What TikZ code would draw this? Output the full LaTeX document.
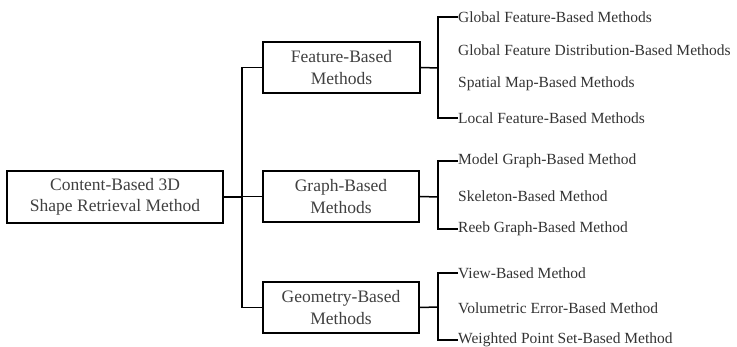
\documentclass[tikz,border=0pt]{standalone}
\usepackage{fontspec}
\setmainfont{Liberation Serif}
\begin{document}
\begin{tikzpicture}[x=1pt,y=-1pt,
  box/.style={draw, line width=1.8pt, align=center, inner sep=0pt, font=\fontsize{17.5}{21.5}\selectfont, text=black!75},
  leaf/.style={anchor=west, inner sep=0pt, font=\fontsize{15.5}{17}\selectfont, text=black!80},
  conn/.style={line width=1.5pt}]
\useasboundingbox (0,0) rectangle (737,347);
\node[box, minimum width=216pt, minimum height=52pt] (root) at (115,197) {Content-Based 3D\\Shape Retrieval Method};
\node[box, minimum width=157pt, minimum height=51pt] (feat) at (341.5,67.5) {Feature-Based\\Methods};
\node[box, minimum width=156pt, minimum height=51pt] (graph) at (341,196.5) {Graph-Based\\Methods};
\node[box, minimum width=156pt, minimum height=51pt] (geom) at (341,307.5) {Geometry-Based\\Methods};
\coordinate (trunk) at (242,197);
\draw[conn] (root.east) -- (trunk);
\draw[conn] (feat.west) -- (feat.west -| trunk) -- (geom.west -| trunk) -- (geom.west);
\draw[conn] (graph.west) -- (graph.west -| trunk);
% leaves
\node[leaf] (f1) at (458,17) {Global Feature-Based Methods};
\node[leaf] (f2) at (458,50) {Global Feature Distribution-Based Methods};
\node[leaf] (f3) at (458,84) {Spatial Map-Based Methods};
\node[leaf] (f4) at (458,118) {Local Feature-Based Methods};
\node[leaf] (g1) at (458,161) {Model Graph-Based Method};
\node[leaf] (g2) at (458,196) {Skeleton-Based Method};
\node[leaf] (g3) at (458,229) {Reeb Graph-Based Method};
\node[leaf] (m1) at (458,273) {View-Based Method};
\node[leaf] (m2) at (458,308) {Volumetric Error-Based Method};
\node[leaf] (m3) at (458,340) {Weighted Point Set-Based Method};
\coordinate (fb) at (438,68);
\coordinate (gb) at (438,197);
\coordinate (mb) at (438,307);
\draw[conn] (feat.east) -- (fb);
\draw[conn] (f1.west) -- (f1.west -| fb) -- (f4.west -| fb) -- (f4.west);
\draw[conn] (graph.east) -- (gb);
\draw[conn] (g1.west) -- (g1.west -| gb) -- (g3.west -| gb) -- (g3.west);
\draw[conn] (geom.east) -- (mb);
\draw[conn] (m1.west) -- (m1.west -| mb) -- (m3.west -| mb) -- (m3.west);
\end{tikzpicture}
\end{document}
